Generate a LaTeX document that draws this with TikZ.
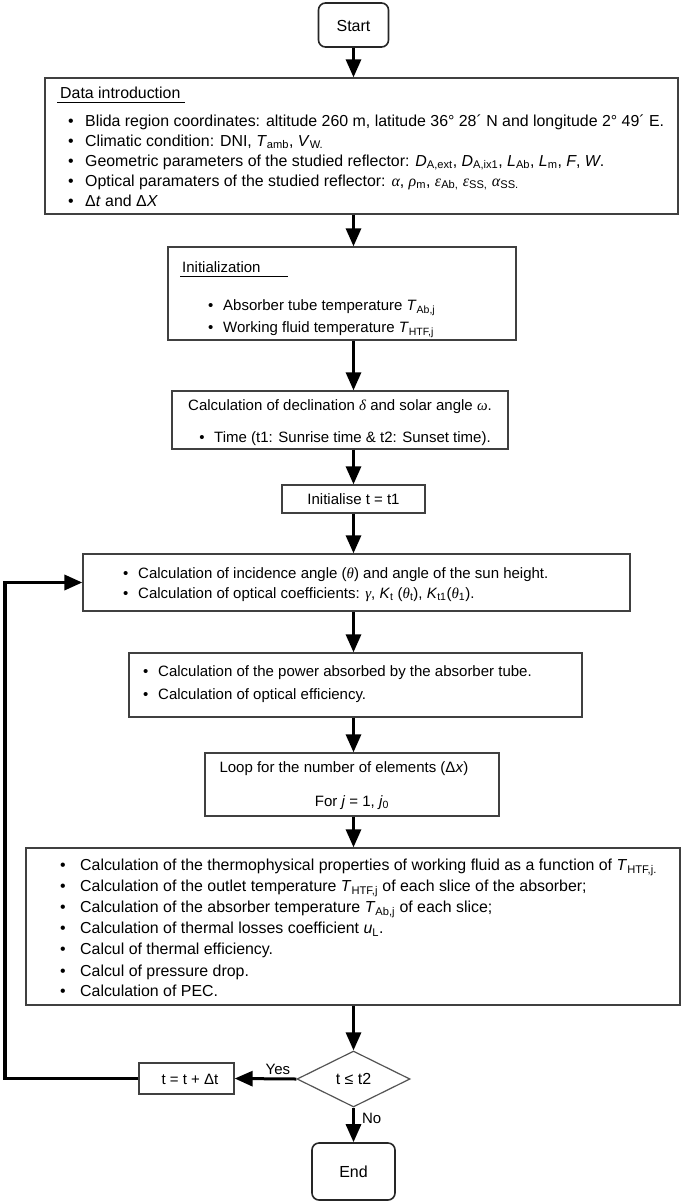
\documentclass[tikz,border=0pt]{standalone}
\usepackage{fontspec}
\setmainfont{Liberation Sans}
\newfontfamily\gkfont{Liberation Serif}
\usetikzlibrary{arrows.meta,shapes.geometric}
\definecolor{boxgray}{HTML}{404040}
\newcommand\sbs[1]{\textsubscript{#1}}
\newcommand\gk[1]{{\gkfont\itshape #1}}
\newcommand\blt{\makebox[15pt][l]{\textbullet}}
\newcommand\bltw{\makebox[20pt][l]{\textbullet}}
\begin{document}
\begin{tikzpicture}[x=1pt,y=-1pt,
  box/.style={draw=boxgray, line width=1.3pt, inner sep=0pt},
  term/.style={draw=black!85, line width=1.6pt, rounded corners=7pt, inner sep=0pt},
  arr/.style={-{Triangle[length=18pt,width=15pt]}, line width=3pt},
  txt/.style={anchor=base west, inner sep=0pt, font=\fontsize{15}{17}\selectfont},
  btxt/.style={anchor=base west, inner sep=0pt, font=\fontsize{15.9}{18}\selectfont},
  ctxt/.style={anchor=base, inner sep=0pt, font=\fontsize{15}{17}\selectfont}]
\useasboundingbox (0,0) rectangle (685,1203);

% boxes
\node[term, minimum width=70pt, minimum height=44pt] (start) at (353.5,25) {};
\node[ctxt, font=\fontsize{16}{18}\selectfont] (starttxt) at (353.5,31) {Start};
\node[box, minimum width=633pt, minimum height=136pt] (data) at (361.5,146) {};
\node[box, minimum width=348pt, minimum height=93pt] (init) at (342,293.5) {};
\node[box, minimum width=336pt, minimum height=58pt] (decl) at (340,420) {};
\node[box, minimum width=143pt, minimum height=28pt] (initt) at (353.5,499) {};
\node[box, minimum width=547pt, minimum height=57pt] (inc) at (356.5,582.5) {};
\node[box, minimum width=453pt, minimum height=64pt] (power) at (355.5,685) {};
\node[box, minimum width=294pt, minimum height=63pt] (loop) at (352,784.5) {};
\node[box, minimum width=654pt, minimum height=157pt] (big) at (353,926.5) {};
\node[draw=boxgray!90, line width=1.2pt, shape=diamond, minimum width=113pt, minimum height=56pt, inner sep=0pt] (dia) at (353.5,1079) {};
\node[ctxt, font=\fontsize{16}{18}\selectfont] (diatxt) at (353.5,1084.5) {t ≤ t2};
\node[box, minimum width=95pt, minimum height=31pt] (tupd) at (186.5,1078.5) {};
\node[ctxt] (tupdtxt) at (190,1084) {t = t + Δt};
\node[term, minimum width=83pt, minimum height=57pt] (end) at (353.5,1171.5) {};
\node[ctxt, font=\fontsize{16}{18}\selectfont] (endtxt) at (353.5,1177) {End};

% data introduction
\node[btxt] (dtitle) at (60,98.5) {Data introduction};
\draw[line width=1pt] (57,102.5) -- (185,102.5);
\node[btxt] (d1) at (68,126) {\makebox[17pt][l]{\textbullet}Blida region coordinates: altitude 260 m, latitude 36° 28´ N and longitude 2° 49´ E.};
\node[btxt] (d2) at (68,146) {\makebox[17pt][l]{\textbullet}Climatic condition: DNI, \textit{T}\sbs{amb}, \textit{V}\sbs{W.}};
\node[btxt] (d3) at (68,166) {\makebox[17pt][l]{\textbullet}Geometric parameters of the studied reflector: \textit{D}\sbs{A,ext}, \textit{D}\sbs{A,ix1}, \textit{L}\sbs{Ab}, \textit{L}\sbs{m}, \textit{F}, \textit{W}.};
\node[btxt] (d4) at (68,186) {\makebox[17pt][l]{\textbullet}Optical paramaters of the studied reflector: \gk{α}, \gk{ρ}\sbs{m}, \gk{ε}\sbs{Ab,} \gk{ε}\sbs{SS,} \gk{α}\sbs{SS.}};
\node[btxt] (d5) at (68,206) {\makebox[17pt][l]{\textbullet}Δ\textit{t} and Δ\textit{X}};

% initialization
\node[txt] (ititle) at (182,272) {Initialization};
\draw[line width=1pt] (180,276) -- (288,276);
\node[txt] (i1) at (208,310.5) {\blt Absorber tube temperature \textit{T}\sbs{Ab,j}};
\node[txt] (i2) at (208,332.5) {\blt Working fluid temperature \textit{T}\sbs{HTF,j}};

% declination
\node[ctxt] (dc1) at (340,410.5) {Calculation of declination \gk{δ} and solar angle \gk{ω}.};
\node[ctxt] (dc2) at (345,442.5) {\blt Time (t1: Sunrise time \& t2: Sunset time).};

\node[ctxt] (it1) at (353.5,504) {Initialise t = t1};

% incidence
\node[txt] (c1) at (123,578.5) {\blt Calculation of incidence angle (\gk{θ}) and angle of the sun height.};
\node[txt] (c2) at (123,598.5) {\blt Calculation of optical coefficients: \gk{γ}, \textit{K}\sbs{t} (\gk{θ}\sbs{t}), \textit{K}\sbs{t1}(\gk{θ}\sbs{1}).};

% power
\node[txt] (p1) at (143,676.5) {\blt Calculation of the power absorbed by the absorber tube.};
\node[txt] (p2) at (143,699.5) {\blt Calculation of optical efficiency.};

% loop
\node[ctxt] (l1) at (344,772) {Loop for the number of elements (Δ\textit{x})};
\node[ctxt] (l2) at (352,806) {For \textit{j} = 1, \textit{j}\sbs{0}};

% big
\node[btxt] (b1) at (60,870.5) {\bltw Calculation of the thermophysical properties of working fluid as a function of \textit{T}\sbs{HTF,j.}};
\node[btxt] (b2) at (60,891.5) {\bltw Calculation of the outlet temperature \textit{T}\sbs{HTF,j} of each slice of the absorber;};
\node[btxt] (b3) at (60,912.5) {\bltw Calculation of the absorber temperature \textit{T}\sbs{Ab,j} of each slice;};
\node[btxt] (b4) at (60,933.5) {\bltw Calculation of thermal losses coefficient \textit{u}\sbs{L}.};
\node[btxt] (b5) at (60,954.5) {\bltw Calcul of thermal efficiency.};
\node[btxt] (b6) at (60,976.5) {\bltw Calcul of pressure drop.};
\node[btxt] (b7) at (60,996.5) {\bltw Calculation of PEC.};

% arrows
\draw[arr] (start.south) -- (start.south |- data.north);
\draw[arr] (data.south -| start) -- (init.north -| start);
\draw[arr] (init.south -| start) -- (decl.north -| start);
\draw[arr] (decl.south -| start) -- (initt.north -| start);
\draw[arr] (initt.south -| start) -- (inc.north -| start);
\draw[arr] (inc.south -| start) -- (power.north -| start);
\draw[arr] (power.south -| start) -- (loop.north -| start);
\draw[arr] (loop.south -| start) -- (big.north -| start);
\draw[arr] (big.south -| start) -- (dia.north);
\draw[arr] (dia.west) -- node[above=3pt, font=\fontsize{15}{17}\selectfont, inner sep=0pt, pos=0.3] (yes) {Yes} (tupd.east);
\draw[arr] (dia.south) -- node[right=7pt, font=\fontsize{15}{17}\selectfont, inner sep=0pt, pos=0.3] (no) {No} (end.north);
\coordinate (lc) at (5,0);
\draw[arr, line width=3.5pt] (tupd.west) -- (tupd.west -| lc) |- (inc.west);
\end{tikzpicture}
\end{document}
